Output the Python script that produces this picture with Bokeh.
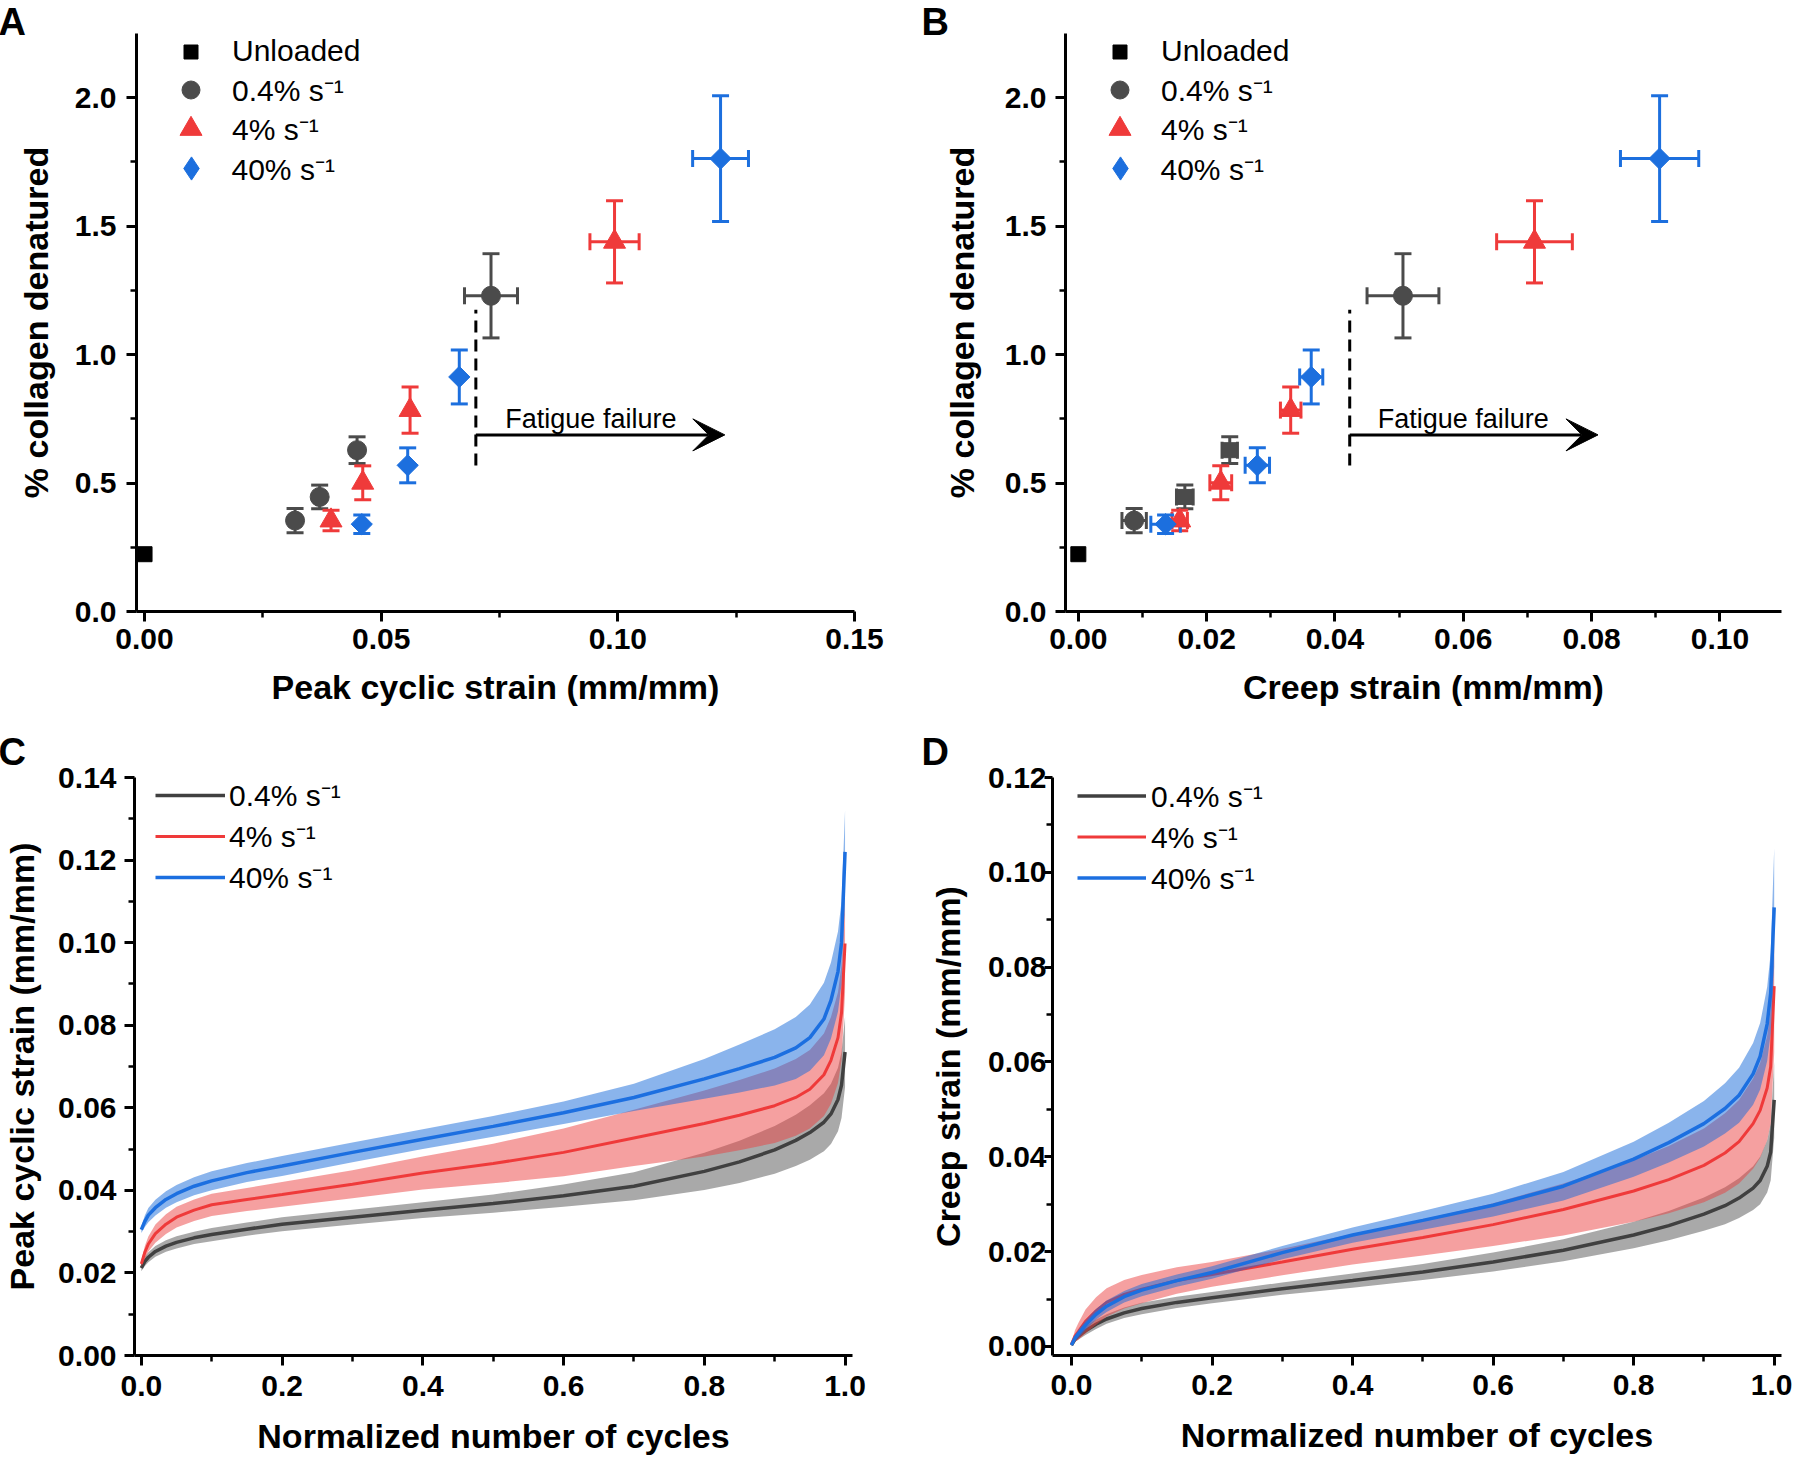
import numpy as np
from bokeh.plotting import figure
from bokeh.models import (ColumnDataSource, Whisker, TeeHead, Arrow, VeeHead, Label, Title,
                          Legend, LegendItem, FixedTicker, NumeralTickFormatter, Range1d)
from bokeh.layouts import row, column
from bokeh.embed import file_html
from bokeh.resources import INLINE

FONT = "Liberation Sans"

# ------------------------------------------------------------------ data A / B
rate_labels = ["0.4% s\u207b\u00b9", "4% s\u207b\u00b9", "40% s\u207b\u00b9"]
unloaded_label = "Unloaded"

unloaded_strain = [0.0]
unloaded_denat = [0.223]

denat_gray = [0.354, 0.446, 0.628, 1.229]
denat_gray_err = [0.047, 0.046, 0.052, 0.164]
denat_red = [0.354, 0.501, 0.784, 1.439]
denat_red_err = [0.040, 0.066, 0.090, 0.160]
denat_blue = [0.340, 0.569, 0.913, 1.763]
denat_blue_err = [0.036, 0.068, 0.105, 0.245]

peak_gray = [0.0318, 0.0370, 0.0449, 0.0732]
peak_gray_err = [0.0, 0.0, 0.0, 0.0056]
peak_red = [0.0394, 0.0461, 0.0561, 0.0993]
peak_red_err = [0.0, 0.0, 0.0, 0.0052]
peak_blue = [0.0459, 0.0556, 0.0665, 0.1217]
peak_blue_err = [0.0, 0.0, 0.0, 0.0059]

creep_gray = [0.0087, 0.0166, 0.0236, 0.0506]
creep_gray_err = [0.0019, 0.0013, 0.0012, 0.0056]
creep_red = [0.0158, 0.0222, 0.0331, 0.0711]
creep_red_err = [0.0012, 0.0017, 0.0016, 0.0059]
creep_blue = [0.0136, 0.0279, 0.0363, 0.0906]
creep_blue_err = [0.0023, 0.0019, 0.0018, 0.0061]
creep_gray_markers = ["circle", "square", "square", "circle"]

# fatigue-failure annotation (threshold strain, dashed extent, arrow)
fatigue_text = "Fatigue failure"
fatigue_A = dict(x=0.0700, tip=0.1226, text_x=0.0943)
fatigue_B = dict(x=0.0423, tip=0.0810, text_x=0.0600)
fatigue_dash_y = (0.568, 1.175)
fatigue_arrow_y = 0.6875

# ------------------------------------------------------------------ data C / D
norm_cycles = [0, 0.005, 0.01, 0.02, 0.035, 0.05, 0.075, 0.1, 0.15, 0.2, 0.3, 0.4, 0.5,
               0.6, 0.7, 0.8, 0.85, 0.9, 0.93, 0.95, 0.97, 0.98, 0.99, 0.995, 1.0]

peak_mean_gray = [0.0212, 0.0228, 0.0238, 0.0252, 0.0265, 0.0274, 0.0285, 0.0293, 0.0306, 0.0318,
                  0.0335, 0.0352, 0.0368, 0.0387, 0.0410, 0.0446, 0.0469, 0.0498, 0.0521, 0.0540,
                  0.0565, 0.0585, 0.0620, 0.0655, 0.0735]
peak_sd_gray = [0.0008, 0.0011, 0.0012, 0.0013, 0.0014, 0.0015, 0.0015, 0.0016, 0.0016, 0.0017,
                0.0018, 0.0019, 0.0022, 0.0027, 0.0034, 0.0045, 0.0051, 0.0058, 0.0062, 0.0066,
                0.0070, 0.0073, 0.0077, 0.0080, 0.0085]
peak_mean_red = [0.0222, 0.0250, 0.0270, 0.0295, 0.0318, 0.0335, 0.0352, 0.0365, 0.0378, 0.0390,
                 0.0415, 0.0442, 0.0465, 0.0492, 0.0527, 0.0562, 0.0582, 0.0605, 0.0625, 0.0645,
                 0.0680, 0.0715, 0.0770, 0.0830, 0.0998]
peak_sd_red = [0.0008, 0.0015, 0.0018, 0.0022, 0.0024, 0.0025, 0.0026, 0.0027, 0.0028, 0.0030,
               0.0034, 0.0040, 0.0048, 0.0058, 0.0068, 0.0080, 0.0085, 0.0090, 0.0093, 0.0095,
               0.0100, 0.0105, 0.0110, 0.0115, 0.0120]
peak_mean_blue = [0.0305, 0.0325, 0.0340, 0.0358, 0.0378, 0.0392, 0.0410, 0.0423, 0.0443, 0.0459,
                  0.0492, 0.0524, 0.0555, 0.0588, 0.0625, 0.0670, 0.0695, 0.0722, 0.0745, 0.0770,
                  0.0815, 0.0860, 0.0930, 0.1000, 0.1220]
peak_sd_blue = [0.0008, 0.0014, 0.0017, 0.0019, 0.0020, 0.0021, 0.0022, 0.0023, 0.0023, 0.0024,
                0.0024, 0.0024, 0.0025, 0.0027, 0.0033, 0.0048, 0.0058, 0.0068, 0.0075, 0.0080,
                0.0088, 0.0092, 0.0097, 0.0100, 0.0100]

creep_mean_gray = [0.0003, 0.0015, 0.0022, 0.0033, 0.0047, 0.0058, 0.0071, 0.0080, 0.0093, 0.0103,
                   0.0122, 0.0139, 0.0157, 0.0178, 0.0203, 0.0235, 0.0255, 0.0279, 0.0297, 0.0313,
                   0.0334, 0.0350, 0.0380, 0.0410, 0.0520]
creep_sd_gray = [0.0002, 0.0005, 0.0007, 0.0009, 0.0010, 0.0010, 0.0011, 0.0012, 0.0012, 0.0012,
                 0.0013, 0.0015, 0.0017, 0.0020, 0.0023, 0.0028, 0.0031, 0.0035, 0.0039, 0.0042,
                 0.0046, 0.0050, 0.0055, 0.0060, 0.0080]
creep_mean_red = [0.0005, 0.0022, 0.0032, 0.0053, 0.0075, 0.0093, 0.0110, 0.0121, 0.0139, 0.0152,
                  0.0178, 0.0205, 0.0230, 0.0257, 0.0289, 0.0328, 0.0352, 0.0382, 0.0408, 0.0432,
                  0.0470, 0.0498, 0.0545, 0.0590, 0.0760]
creep_sd_red = [0.0003, 0.0012, 0.0018, 0.0025, 0.0029, 0.0030, 0.0030, 0.0030, 0.0028, 0.0026,
                0.0028, 0.0032, 0.0038, 0.0045, 0.0055, 0.0065, 0.0071, 0.0078, 0.0084, 0.0088,
                0.0095, 0.0100, 0.0110, 0.0120, 0.0140]
creep_mean_blue = [0.0003, 0.0018, 0.0027, 0.0045, 0.0068, 0.0085, 0.0105, 0.0119, 0.0139, 0.0156,
                   0.0198, 0.0235, 0.0266, 0.0298, 0.0338, 0.0395, 0.0430, 0.0470, 0.0502, 0.0530,
                   0.0575, 0.0612, 0.0680, 0.0745, 0.0926]
creep_sd_blue = [0.0003, 0.0007, 0.0009, 0.0010, 0.0011, 0.0012, 0.0012, 0.0013, 0.0013, 0.0013,
                 0.0014, 0.0016, 0.0020, 0.0024, 0.0030, 0.0037, 0.0042, 0.0048, 0.0053, 0.0058,
                 0.0065, 0.0070, 0.0078, 0.0085, 0.0125]

# ------------------------------------------------------------------ styles
C_GRAY, C_RED, C_BLUE = "#4b4b4b", "#ef3a3a", "#1c6fde"
LINE_GRAY, LINE_RED, LINE_BLUE = "#404040", "#ef3a3a", "#1c6fe0"
BAND_GRAY, BAND_RED, BAND_BLUE = "#535353", "#eb4141", "#1569d9"


def make_fig(w, h, xr, yr, bl, br, bt, bb):
    p = figure(width=w, height=h, x_range=Range1d(*xr), y_range=Range1d(*yr),
               output_backend="svg", toolbar_location=None,
               min_border_left=bl, min_border_right=br, min_border_top=bt, min_border_bottom=bb)
    p.outline_line_color = None
    p.xgrid.visible = False
    p.ygrid.visible = False
    p.background_fill_color = "white"
    p.border_fill_color = "white"
    return p


def style_axis(ax, ticks, minor, fmt, label, tick_out, standoff, label_standoff):
    ax.ticker = FixedTicker(ticks=ticks, minor_ticks=minor)
    ax.formatter = NumeralTickFormatter(format=fmt)
    ax.axis_line_width = 3
    ax.axis_line_color = "black"
    ax.major_tick_line_width = 3
    ax.major_tick_line_color = "black"
    ax.major_tick_out = tick_out
    ax.major_tick_in = 0
    ax.minor_tick_line_width = 2.5
    ax.minor_tick_line_color = "black"
    ax.minor_tick_out = 6
    ax.minor_tick_in = 0
    ax.major_label_text_font = FONT
    ax.major_label_text_font_style = "bold"
    ax.major_label_text_font_size = "30px"
    ax.major_label_text_color = "black"
    ax.major_label_standoff = standoff
    ax.axis_label = label
    ax.axis_label_text_font = FONT
    ax.axis_label_text_font_style = "bold"
    ax.axis_label_text_font_size = "34px"
    ax.axis_label_text_color = "black"
    ax.axis_label_standoff = label_standoff


def panel_letter(p, text, offset, standoff):
    p.add_layout(Title(text=text, align="left", vertical_align="middle", offset=offset,
                       standoff=standoff, text_font=FONT, text_font_style="bold",
                       text_font_size="38px", text_color="black"), "above")


def add_errbars(p, xs, ys, xerr, yerr, color):
    xs = np.array(xs); ys = np.array(ys); xerr = np.array(xerr); yerr = np.array(yerr)
    sy = ColumnDataSource(dict(base=xs, lower=ys - yerr, upper=ys + yerr))
    p.add_layout(Whisker(source=sy, base="base", lower="lower", upper="upper", dimension="height",
                         line_color=color, line_width=3,
                         lower_head=TeeHead(size=17, line_color=color, line_width=3),
                         upper_head=TeeHead(size=17, line_color=color, line_width=3)))
    m = xerr > 0
    if m.any():
        sx = ColumnDataSource(dict(base=ys[m], lower=xs[m] - xerr[m], upper=xs[m] + xerr[m]))
        p.add_layout(Whisker(source=sx, base="base", lower="lower", upper="upper", dimension="width",
                             line_color=color, line_width=3,
                             lower_head=TeeHead(size=17, line_color=color, line_width=3),
                             upper_head=TeeHead(size=17, line_color=color, line_width=3)))


def marker_legend(p, marker, color, label, W, frame_h, row_c):
    # legend-only glyph (a single undefined point, nothing drawn in the plot)
    r = p.scatter(x=[np.nan], y=[np.nan], marker=marker, size=10, fill_color=color, line_color=color)
    vx = 54.5 - W / 2.0
    vy = frame_h - row_c - W / 2.0
    leg = Legend(items=[LegendItem(label=label, renderers=[r])], location=(vx, vy),
                 glyph_width=W, glyph_height=W, label_standoff=int(round(96 - vx - W)),
                 padding=0, margin=0, spacing=0, border_line_alpha=0,
                 background_fill_alpha=0, label_text_font=FONT, label_text_font_size="30px",
                 label_text_color="black", label_height=W)
    p.add_layout(leg)


def scatter_panel(p, xg, xge, xr_, xre, xb, xbe, gray_markers, fatigue, frame_h):
    p.scatter(unloaded_strain, unloaded_denat, marker="square", size=15, color="black")
    add_errbars(p, xg, denat_gray, xge, denat_gray_err, C_GRAY)
    add_errbars(p, xr_, denat_red, xre, denat_red_err, C_RED)
    add_errbars(p, xb, denat_blue, xbe, denat_blue_err, C_BLUE)
    p.scatter(x=xg, y=denat_gray, marker=gray_markers,
              size=[19 if m == "circle" else 15 for m in gray_markers],
              fill_color=C_GRAY, line_color=C_GRAY)
    p.scatter(x=xr_, y=denat_red, marker="triangle", size=22, fill_color=C_RED, line_color=C_RED)
    p.scatter(x=xb, y=denat_blue, marker="square", angle=np.pi / 4, size=15,
              fill_color=C_BLUE, line_color=C_BLUE)
    # fatigue annotation
    p.segment(x0=[fatigue["x"]], y0=[fatigue_dash_y[0]], x1=[fatigue["x"]], y1=[fatigue_dash_y[1]],
              line_color="black", line_width=3, line_dash="12 7")
    p.add_layout(Arrow(end=VeeHead(size=32, fill_color="black", line_color="black", line_width=1),
                       x_start=fatigue["x"], y_start=fatigue_arrow_y,
                       x_end=fatigue["tip"], y_end=fatigue_arrow_y,
                       line_color="black", line_width=3))
    p.add_layout(Label(x=fatigue["text_x"], y=fatigue_arrow_y, y_offset=16, text=fatigue_text,
                       text_font=FONT, text_font_size="27px", text_align="center",
                       text_baseline="alphabetic", text_color="black"))
    # legend (one legend per entry so that each marker gets its own size)
    marker_legend(p, "square", "black", unloaded_label, 35, frame_h, 18)
    marker_legend(p, "circle", C_GRAY, rate_labels[0], 45, frame_h, 56)
    marker_legend(p, "triangle", C_RED, rate_labels[1], 55, frame_h, 95)
    marker_legend(p, "diamond", C_BLUE, rate_labels[2], 58, frame_h, 135)


def curve_panel(p, series, vx, vy, gw, gh, standoff):
    items = []
    for mean, sd, band, line, lw, lab in series:
        mean = np.array(mean); sd = np.array(sd)
        src = ColumnDataSource(dict(x=norm_cycles, m=mean, lo=mean - sd, hi=mean + sd))
        p.varea(x="x", y1="lo", y2="hi", source=src, fill_color=band, fill_alpha=0.5)
        r = p.line(x="x", y="m", source=src, line_color=line, line_width=lw)
        items.append(LegendItem(label=lab, renderers=[r]))
    leg = Legend(items=items, location=(vx, vy), glyph_width=gw, glyph_height=gh,
                 label_standoff=standoff, padding=0, margin=0, spacing=0,
                 border_line_alpha=0, background_fill_alpha=0, label_text_font=FONT,
                 label_text_font_size="30px", label_text_color="black", label_height=gh)
    p.add_layout(leg)


# ------------------------------------------------------------------ panel A
pA = make_fig(896, 726, (-0.0017, 0.15), (0, 2.25), 136, 42, 33, 115)
style_axis(pA.xaxis[0], [0, 0.05, 0.10, 0.15], [0.025, 0.075, 0.125], "0.00",
           "Peak cyclic strain (mm/mm)", 10, 7, 16)
style_axis(pA.yaxis[0], [0, 0.5, 1.0, 1.5, 2.0], [0.25, 0.75, 1.25, 1.75], "0.0",
           "% collagen denatured", 10, 10, 17)
scatter_panel(pA, peak_gray, peak_gray_err, peak_red, peak_red_err, peak_blue, peak_blue_err,
              ["circle"] * 4, fatigue_A, 578)
panel_letter(pA, "A", -138, -21)

# ------------------------------------------------------------------ panel B
pB = make_fig(896, 726, (-0.002, 0.1096), (0, 2.25), 169, 11, 33, 115)
style_axis(pB.xaxis[0], [0, 0.02, 0.04, 0.06, 0.08, 0.10], [0.01, 0.03, 0.05, 0.07, 0.09], "0.00",
           "Creep strain (mm/mm)", 10, 7, 16)
style_axis(pB.yaxis[0], [0, 0.5, 1.0, 1.5, 2.0], [0.25, 0.75, 1.25, 1.75], "0.0",
           "% collagen denatured", 10, 9, 21)
scatter_panel(pB, creep_gray, creep_gray_err, creep_red, creep_red_err, creep_blue, creep_blue_err,
              creep_gray_markers, fatigue_B, 578)
panel_letter(pB, "B", -144, -21)

# ------------------------------------------------------------------ panel C
pC = make_fig(896, 732, (-0.0097, 1.0106), (0, 0.14), 134, 44, 51, 103)
style_axis(pC.xaxis[0], [0, 0.2, 0.4, 0.6, 0.8, 1.0], [0.1, 0.3, 0.5, 0.7, 0.9], "0.0",
           "Normalized number of cycles", 10, 10, 18)
style_axis(pC.yaxis[0], [0, 0.02, 0.04, 0.06, 0.08, 0.10, 0.12, 0.14],
           [0.01, 0.03, 0.05, 0.07, 0.09, 0.11, 0.13], "0.00",
           "Peak cyclic strain (mm/mm)", 10, 8, 14)
curve_panel(pC, [
    (peak_mean_gray, peak_sd_gray, BAND_GRAY, LINE_GRAY, 3.5, rate_labels[0]),
    (peak_mean_red, peak_sd_red, BAND_RED, LINE_RED, 3, rate_labels[1]),
    (peak_mean_blue, peak_sd_blue, BAND_BLUE, LINE_BLUE, 3.5, rate_labels[2]),
], 21, 458, 70, 40, 4)
panel_letter(pC, "C", -136, 7)

# ------------------------------------------------------------------ panel D
pD = make_fig(896, 732, (-0.027, 1.0104), (-0.0019, 0.12), 156, 11, 51, 102)
style_axis(pD.xaxis[0], [0, 0.2, 0.4, 0.6, 0.8, 1.0], [0.1, 0.3, 0.5, 0.7, 0.9], "0.0",
           "Normalized number of cycles", 10, 9, 18)
style_axis(pD.yaxis[0], [0, 0.02, 0.04, 0.06, 0.08, 0.10, 0.12],
           [0.01, 0.03, 0.05, 0.07, 0.09, 0.11], "0.00",
           "Creep strain (mm/mm)", 8, -2, 18)
curve_panel(pD, [
    (creep_mean_gray, creep_sd_gray, BAND_GRAY, LINE_GRAY, 3.5, rate_labels[0]),
    (creep_mean_red, creep_sd_red, BAND_RED, LINE_RED, 3, rate_labels[1]),
    (creep_mean_blue, creep_sd_blue, BAND_BLUE, LINE_BLUE, 3.5, rate_labels[2]),
], 25, 457, 69, 41, 5)
panel_letter(pD, "D", -131, 7)

layout = column(row(pA, pB), row(pC, pD))
open("out.html", "w").write(file_html(layout, INLINE))
